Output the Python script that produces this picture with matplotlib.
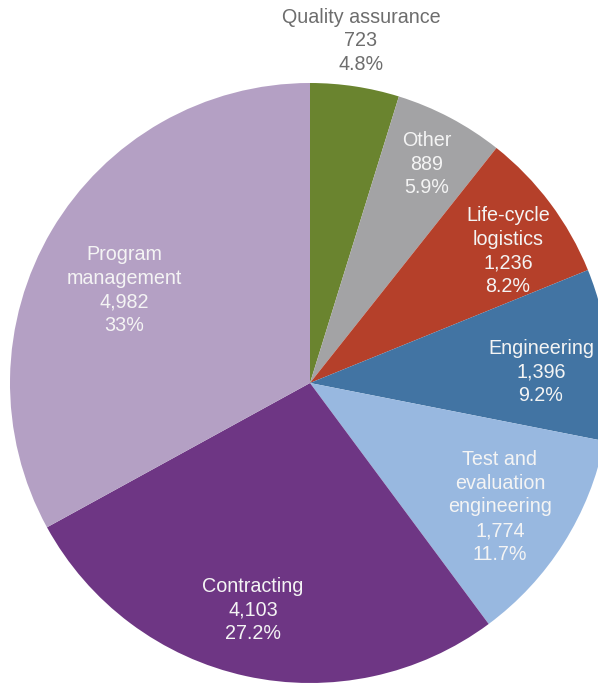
import matplotlib
matplotlib.use("Agg")
import matplotlib.pyplot as plt
import numpy as np

categories = ["Quality assurance", "Other", "Life-cycle\nlogistics", "Engineering",
              "Test and\nevaluation\nengineering", "Contracting", "Program\nmanagement"]
values = [723, 889, 1236, 1396, 1774, 4103, 4982]
pct_labels = ["4.8%", "5.9%", "8.2%", "9.2%", "11.7%", "27.2%", "33%"]
colors = ["#6a842f", "#a3a3a5", "#b5402a", "#4274a3", "#98b8e0", "#6e3684", "#b4a0c4"]

W, H = 598, 683
fig = plt.figure(figsize=(W / 100, H / 100), dpi=100)
ax = fig.add_axes([0, 0, 1, 1])

cx, cy, R = 310, 300, 300
wedges, _ = ax.pie(values, colors=colors, startangle=90, counterclock=False,
                   center=(cx, cy), radius=R, frame=True,
                   wedgeprops=dict(linewidth=0, antialiased=True))
ax.set_xlim(0, W)
ax.set_ylim(0, H)
ax.set_aspect("equal")
ax.axis("off")

# label anchor points (pixel coordinates from the top-left corner)
label_pos = [(361, 41), (427, 164), (508, 251), (541, 372), (500, 507), (253, 610), (124, 290)]
text_colors = ["#6d6d6d"] + ["#f4f4f4"] * 6

for name, v, p, (x, y), tc in zip(categories, values, pct_labels, label_pos, text_colors):
    txt = f"{name}\n{v:,}\n{p}"
    ax.text(x, H - y, txt, ha="center", va="center", color=tc,
            fontsize=14.2, family="Liberation Sans", linespacing=1.33)

fig.savefig("out.png", dpi=100)
